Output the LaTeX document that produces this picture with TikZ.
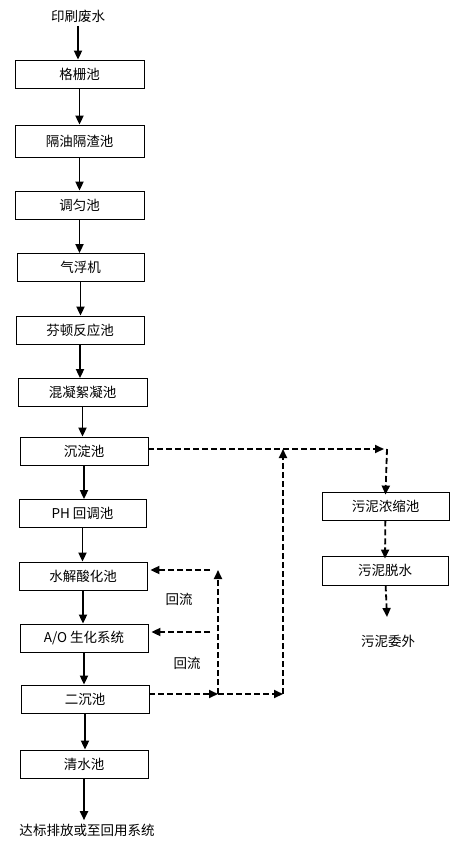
\documentclass[tikz,border=0pt]{standalone}
\usepackage{fontspec}
\usepackage{xcolor}
\usepackage{tikz}
\usetikzlibrary{arrows.meta}
\setmainfont{Noto Sans CJK SC}

\begin{document}
\begin{tikzpicture}[x=1pt,y=-1pt,
    font=\fontsize{13.5}{16}\selectfont,
    pool/.style={draw, line width=0.8pt, minimum width=129pt, minimum height=28pt, inner sep=0pt},
    flow/.style={line width=1.8pt, -{Triangle[width=8pt,length=9pt]}},
    sludge/.style={line width=1.8pt, dash pattern=on 6pt off 3pt, -{Triangle[width=8pt,length=9pt]}}]
  \useasboundingbox (0,0) rectangle (451,842);
  % main line
  \node (src) at (78,16) {印刷废水};
  \node[pool] (gs) at (79.5,74) {格栅池};
  \node[pool, minimum height=32pt] (gy) at (79.5,141) {隔油隔渣池};
  \node[pool] (tj) at (79.5,205) {调匀池};
  \node[pool, minimum width=127pt] (qf) at (80.5,267.5) {气浮机};
  \node[pool, minimum width=128pt] (ft) at (80,330) {芬顿反应池};
  \node[pool] (hn) at (82.5,392.5) {混凝絮凝池};
  \node[pool, minimum width=128pt] (cd) at (84,451) {沉淀池};
  \node[pool, minimum width=127pt] (ph) at (82.5,513.5) {PH 回调池};
  \node[pool, minimum width=128pt] (sj) at (83,576) {水解酸化池};
  \node[pool, minimum width=128pt] (ao) at (84,638) {A/O 生化系统};
  \node[pool, minimum width=128pt] (ec) at (85,699) {二沉池};
  \node[pool, minimum width=128pt] (qs) at (84,764) {清水池};
  \node (out) at (87,830) {达标排放或至回用系统};
  \draw[flow] (src) -- (src |- gs.north);
  \draw[flow] (gs) -- (gs |- gy.north);
  \draw[flow] (gy) -- (gy |- tj.north);
  \draw[flow] (tj) -- (tj |- qf.north);
  \draw[flow] (qf) -- (qf |- ft.north);
  \draw[flow] (ft) -- (ft |- hn.north);
  \draw[flow] (hn) -- (hn |- cd.north);
  \draw[flow] (cd) -- (cd |- ph.north);
  \draw[flow] (ph) -- (ph |- sj.north);
  \draw[flow] (sj) -- (sj |- ao.north);
  \draw[flow] (ao) -- (ao |- ec.north);
  \draw[flow] (ec) -- (ec |- qs.north);
  \draw[flow] (qs) -- (qs |- out.north);
  % sludge line
  \node[pool, minimum width=127pt] (wn) at (385.5,506) {污泥浓缩池};
  \node[pool, minimum width=126pt, minimum height=29pt] (wt) at (385,570.5) {污泥脱水};
  \node (ww) at (388,641) {污泥委外};
  \coordinate (c1) at (387,449);
  \coordinate (c2) at (387,617);
  \draw[sludge] (cd.east |- c1) -- ([xshift=-3pt]c1);
  \draw[sludge] (c1) -- ([yshift=-3pt]wn.north);
  \draw[sludge] (wn) -- ([yshift=-3pt]wt.north);
  \draw[sludge] (wt) -- (c2);
  % return lines
  \coordinate (j1) at (218,694);
  \coordinate (j2) at (283,694);
  \coordinate (r1) at (210,570);
  \coordinate (r2) at (210,632);
  \draw[sludge] (ec.east |- j1) -- (j1);
  \draw[sludge] (j1) -- (j2);
  \draw[sludge] (j1) -- (j1 |- r1);
  \draw[sludge] (j2) -- (j2 |- c1);
  \draw[sludge] (r1) -- ([xshift=3pt]sj.east |- r1);
  \draw[sludge] (r2) -- ([xshift=3pt]ao.east |- r2);
  \node (hl1) at (179,599) {回流};
  \node (hl2) at (187,663) {回流};
\end{tikzpicture}
\end{document}
